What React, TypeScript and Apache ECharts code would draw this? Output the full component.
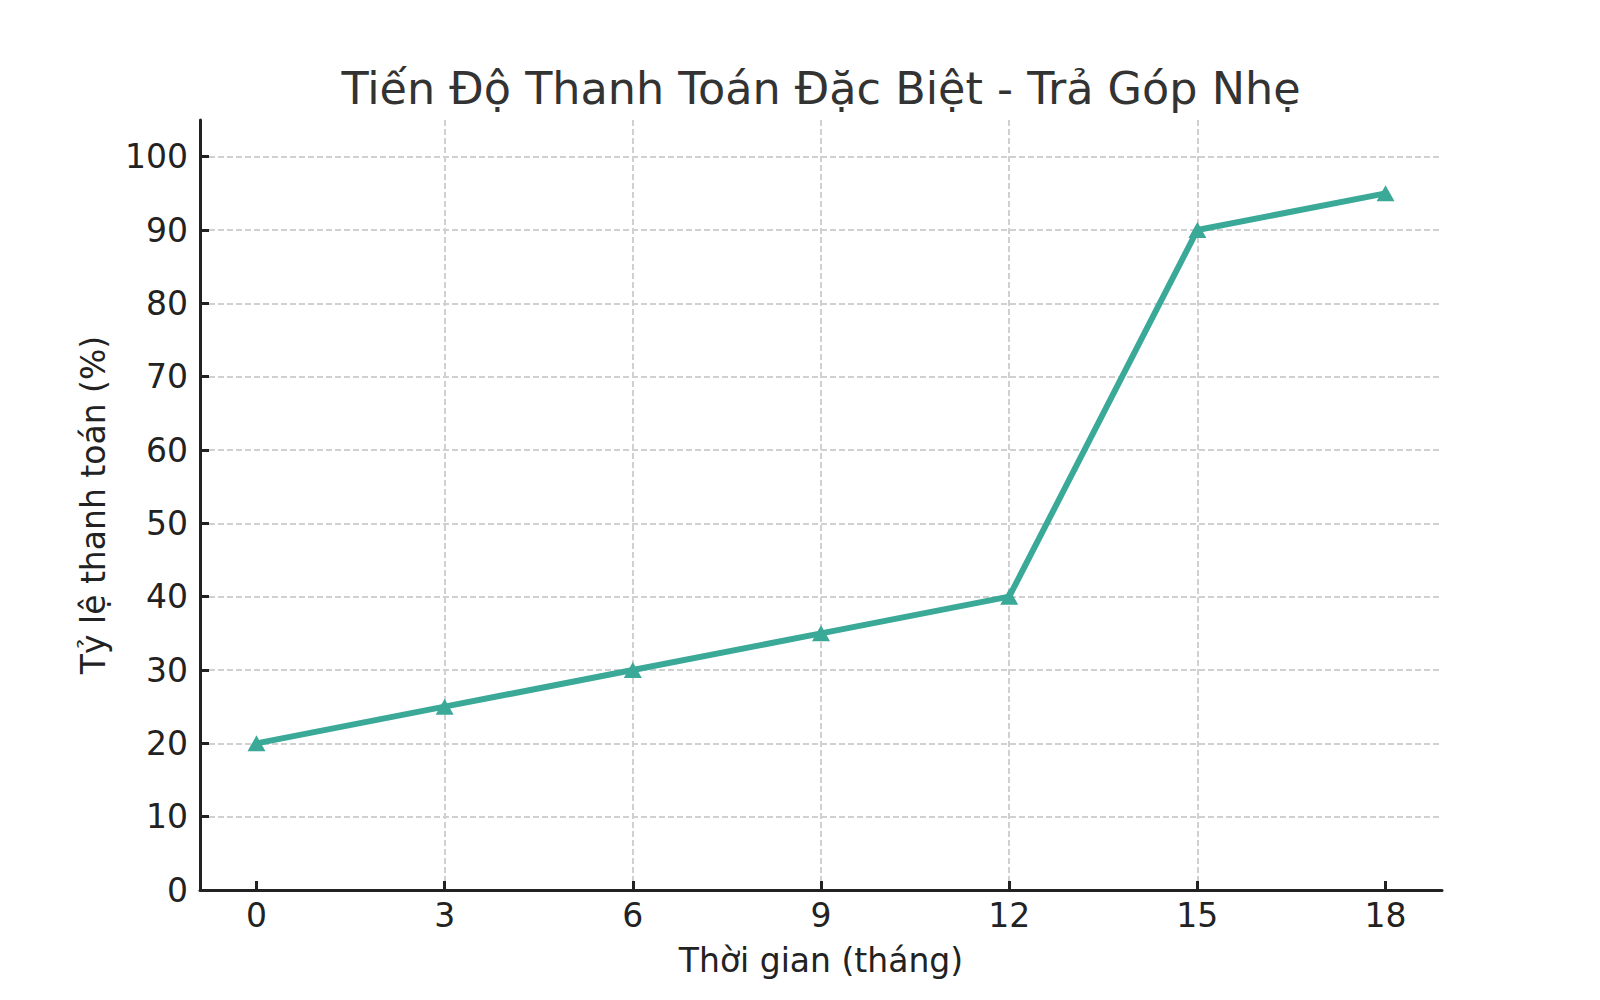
import { useEffect, useRef } from 'react'
import * as echarts from 'echarts'

// months since start and cumulative paid share (%)
const months = [0, 3, 6, 9, 12, 15, 18]
const paidPct = [20, 25, 30, 35, 40, 90, 95]
const xTicks = [0, 3, 6, 9, 12, 15, 18]

const TITLE = 'Tiến Độ Thanh Toán Đặc Biệt - Trả Góp Nhẹ'
const X_NAME = 'Thời gian (tháng)'
const Y_NAME = 'Tỷ lệ thanh toán (%)'

const FONT = '"DejaVu Sans", Verdana, sans-serif'
const TEAL = '#3aa998'
const INK = '#222222'

export default function App() {
  const ref = useRef<HTMLDivElement>(null)

  useEffect(() => {
    if (!ref.current) return
    const chart = echarts.init(ref.current, undefined, { renderer: 'svg' })

    const axisCommon = {
      axisLine: { show: true, onZero: false, lineStyle: { color: INK, width: 3 } },
      axisTick: { show: true, inside: true, length: 9, lineStyle: { color: INK, width: 3 } },
      axisLabel: { color: INK, fontSize: 33, fontFamily: FONT },
      splitLine: {
        show: true,
        showMinLine: false,
        showMaxLine: false,
        lineStyle: { color: '#d0d0d0', width: 2, type: [6, 3] as number[] },
      },
      nameTextStyle: { color: INK, fontSize: 33, fontFamily: FONT },
      nameLocation: 'middle' as const,
    }

    chart.setOption({
      animation: false,
      backgroundColor: '#ffffff',
      title: {
        text: TITLE,
        left: 816,
        top: 61,
        textAlign: 'center',
        textStyle: { color: '#333333', fontSize: 44.5, fontWeight: 'normal', fontFamily: FONT },
      },
      grid: { left: 200, right: 158, top: 120, bottom: 110, containLabel: false },
      xAxis: {
        ...axisCommon,
        type: 'value',
        min: -0.9,
        max: 18.9,
        name: X_NAME,
        nameGap: 54,
        axisLabel: {
          ...axisCommon.axisLabel,
          margin: 9,
          customValues: xTicks,
        },
        axisTick: { ...axisCommon.axisTick, customValues: xTicks },
      },
      yAxis: {
        ...axisCommon,
        type: 'value',
        min: 0,
        max: 105,
        interval: 10,
        name: Y_NAME,
        nameGap: 90,
        axisLabel: {
          ...axisCommon.axisLabel,
          margin: 12,
          showMaxLabel: false,
        },
        splitLine: { ...axisCommon.splitLine, showMinLine: false },
      },
      series: [
        {
          type: 'line',
          data: months.map((m, i) => [m, paidPct[i]]),
          symbol: 'triangle',
          symbolSize: [18, 16],
          showSymbol: true,
          lineStyle: { color: TEAL, width: 6 },
          itemStyle: { color: TEAL, borderWidth: 0 },
          z: 5,
        },
      ],
    })

    return () => chart.dispose()
  }, [])

  return (
    <div style={{ position: 'fixed', left: 0, top: 0, width: 1600, height: 1000, background: '#fff' }}>
      <div ref={ref} style={{ width: 1600, height: 1000 }} />
    </div>
  )
}
